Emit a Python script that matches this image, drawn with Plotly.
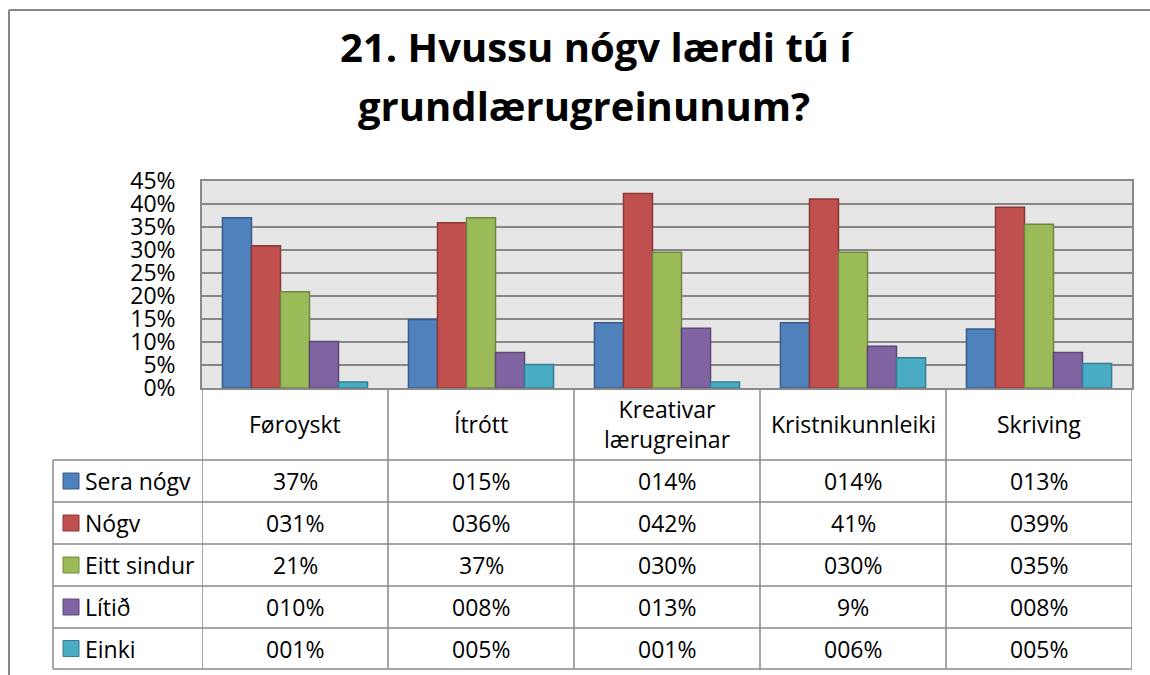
import plotly.graph_objects as go

# ---------------- data ----------------
categories = ["Føroyskt", "Ítrótt", "Kreativar<br>lærugreinar", "Kristnikunnleiki", "Skriving"]
series_names = ["Sera nógv", "Nógv", "Eitt sindur", "Lítið", "Einki"]

sera_nogv = [37.0, 14.9, 14.2, 14.2, 12.8]
nogv = [30.9, 35.9, 42.3, 41.1, 39.3]
eitt_sindur = [20.9, 37.0, 29.5, 29.5, 35.6]
litid = [10.1, 7.7, 13.0, 9.1, 7.7]
einki = [1.3, 5.1, 1.3, 6.6, 5.3]

sera_nogv_lbl = ["37%", "015%", "014%", "014%", "013%"]
nogv_lbl = ["031%", "036%", "042%", "41%", "039%"]
eitt_sindur_lbl = ["21%", "37%", "030%", "030%", "035%"]
litid_lbl = ["010%", "008%", "013%", "9%", "008%"]
einki_lbl = ["001%", "005%", "001%", "006%", "005%"]

y_ticks = [0, 5, 10, 15, 20, 25, 30, 35, 40, 45]
title_lines = ["21. Hvussu nógv lærdi tú í", "grundlærugreinunum?"]

# ---------------- styling ----------------
W, H = 1150, 675
FONT = "Open Sans"
BODY = 23
fills = ["#4F81BD", "#C0504D", "#9BBB59", "#8064A2", "#4BACC6"]
edges = ["#385D8A", "#8C3836", "#71893F", "#5C4776", "#357D91"]
values = [sera_nogv, nogv, eitt_sindur, litid, einki]
labels = [sera_nogv_lbl, nogv_lbl, eitt_sindur_lbl, litid_lbl, einki_lbl]

def xp(px):
    return px / W

def yp(py):
    return 1 - py / H

PLOT_L, PLOT_R, PLOT_T, PLOT_B = 202, 1132, 181, 388
TAB_L = 53
row_edges = [388, 460, 502, 544, 586, 628, 669]
GRID = "#868686"
LINE = "#8a8a8a"

fig = go.Figure()
idx = list(range(len(categories)))
for name, vals, fc, ec in zip(series_names, values, fills, edges):
    fig.add_trace(go.Bar(
        x=idx, y=vals, name=name,
        marker=dict(color=fc, line=dict(color=ec, width=1.5)),
        hoverinfo="skip",
    ))

shapes = []
annotations = []

# outer chart border (left + top)
shapes.append(dict(type="line", xref="paper", yref="paper", x0=xp(9), x1=xp(9), y0=0, y1=yp(10),
                   line=dict(color="#878787", width=2)))
shapes.append(dict(type="line", xref="paper", yref="paper", x0=xp(9), x1=1, y0=yp(10), y1=yp(10),
                   line=dict(color="#878787", width=2)))

n = len(categories)
# table: vertical column lines at category boundaries
for k in range(n + 1):
    shapes.append(dict(type="line", xref="x", yref="paper", x0=k - 0.5, x1=k - 0.5,
                       y0=yp(row_edges[-1]), y1=yp(row_edges[0]), line=dict(color=LINE, width=1.5)))
# left column vertical line
shapes.append(dict(type="line", xref="paper", yref="paper", x0=xp(TAB_L), x1=xp(TAB_L),
                   y0=yp(row_edges[-1]), y1=yp(row_edges[1]), line=dict(color=LINE, width=1.5)))
# horizontal lines
for r in row_edges[1:]:
    shapes.append(dict(type="line", xref="paper", yref="paper", x0=xp(TAB_L), x1=xp(PLOT_R),
                       y0=yp(r), y1=yp(r), line=dict(color=LINE, width=1.5)))

# header texts
for k, cat in enumerate(categories):
    annotations.append(dict(x=k, y=yp((row_edges[0] + row_edges[1]) / 2), xref="x", yref="paper",
                            text=cat, showarrow=False, font=dict(family=FONT, size=BODY, color="black"),
                            xanchor="center", yanchor="middle"))

# rows
for i, (name, lbls) in enumerate(zip(series_names, labels)):
    top, bot = row_edges[i + 1], row_edges[i + 2]
    cy = (top + bot) / 2
    shapes.append(dict(type="rect", xref="paper", yref="paper", x0=xp(63), x1=xp(79),
                       y0=yp(cy + 8), y1=yp(cy - 8), fillcolor=fills[i],
                       line=dict(color=edges[i], width=1)))
    annotations.append(dict(x=xp(83), y=yp(cy), xref="paper", yref="paper", text=name, showarrow=False,
                            font=dict(family=FONT, size=BODY, color="black"), xanchor="left", yanchor="middle"))
    for k, t in enumerate(lbls):
        annotations.append(dict(x=k, y=yp(cy), xref="x", yref="paper", text=t, showarrow=False,
                                font=dict(family=FONT, size=BODY, color="black"),
                                xanchor="center", yanchor="middle"))

# title
annotations.append(dict(x=xp(596), y=yp(46), xref="paper", yref="paper", text="<b>" + title_lines[0] + "</b>",
                        showarrow=False, font=dict(family=FONT, size=40, color="black"),
                        xanchor="center", yanchor="middle"))
annotations.append(dict(x=xp(584), y=yp(105), xref="paper", yref="paper", text="<b>" + title_lines[1] + "</b>",
                        showarrow=False, font=dict(family=FONT, size=40, color="black"),
                        xanchor="center", yanchor="middle"))

fig.update_layout(
    width=W, height=H,
    margin=dict(l=0, r=0, t=0, b=0, autoexpand=False),
    paper_bgcolor="white",
    plot_bgcolor="#E6E6E6",
    barmode="group", bargap=0.22, bargroupgap=0,
    showlegend=False,
    xaxis=dict(domain=[xp(PLOT_L), xp(PLOT_R)], range=[-0.5, n - 0.5], showticklabels=False,
               showgrid=False, zeroline=False, showline=True, linecolor=LINE, linewidth=1.5, mirror=True,
               fixedrange=True, automargin=False),
    yaxis=dict(domain=[yp(PLOT_B), yp(PLOT_T)], range=[0, 45], tickvals=y_ticks,
               ticktext=[f"{v}%" for v in y_ticks], showgrid=True, gridcolor=GRID, gridwidth=2,
               zeroline=False, showline=True, linecolor=LINE, linewidth=1.5, mirror=True,
               ticks="", ticklabelstandoff=20, automargin=False,
               tickfont=dict(family=FONT, size=BODY, color="black"), fixedrange=True),
    shapes=shapes,
    annotations=annotations,
)

fig.write_html("out.html", config={"displayModeBar": False},
               post_script="document.body.style.margin='0';document.body.style.overflow='hidden';")
